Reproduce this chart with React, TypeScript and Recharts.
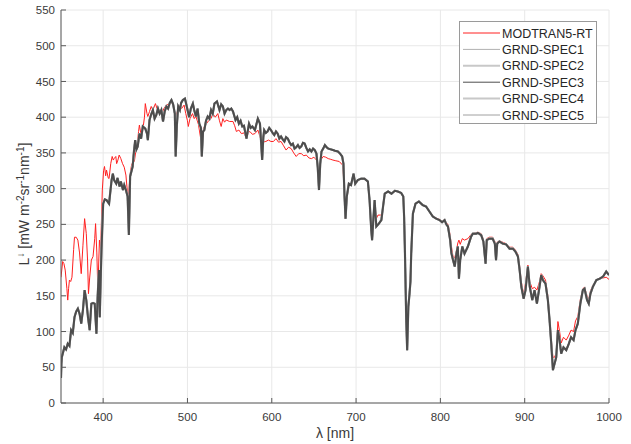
import React from 'react';
import { LineChart, Line, XAxis, YAxis, CartesianGrid } from 'recharts';

// wavelength [nm], radiance [mW m^-2 sr^-1 nm^-1]
const modtran: [number, number][] = [
  [350, 176], [352, 198], [353.5, 195], [355, 186], [357, 160], [358, 144], [359, 160], [360, 172], [361.5, 170], [363, 176],
  [365, 215], [366, 232], [368, 232], [370, 228], [372, 210], [374, 181], [376, 220], [378, 258], [380, 237], [381.5, 200],
  [382.6, 153], [384, 175], [386, 200], [388, 205], [390, 230], [391, 251], [392.5, 210], [393.7, 158], [395.6, 228], [397, 215],
  [399, 298], [400.5, 325], [401.6, 331], [403, 318], [404, 326], [406, 315], [407, 314], [409, 335], [410.7, 345], [412, 340],
  [413, 342], [415, 345], [416, 335], [417.5, 340], [419, 347], [421, 342], [423, 335], [425, 330], [427, 319], [429.6, 284],
  [432, 321], [434, 335], [437, 338], [439, 355], [441, 368], [442, 380], [443, 389], [445, 375], [447, 382], [449, 400],
  [450, 419], [452, 405], [453, 401], [455, 408], [457, 415], [459, 410], [462, 419], [465, 408], [467, 410], [470, 405],
  [472, 412], [475, 417], [478, 418], [481, 422], [484, 412], [486, 401], [488, 408], [491, 417], [493, 412], [496, 417],
  [498, 405], [500, 395], [501, 387], [503, 398], [506, 405], [508, 398], [510, 401], [513, 390], [516, 368], [517, 345],
  [519, 385], [522, 390], [525, 395], [528, 398], [530, 405], [533, 400], [536, 405], [538, 395], [540, 387], [542, 398],
  [544, 393], [546, 396], [550, 394], [554, 394], [556, 388], [558, 380], [561, 382], [564, 377], [567, 378], [570, 370],
  [572, 378], [574, 380], [577, 376], [580, 377], [583.5, 382], [586, 373], [589, 360], [591, 366], [593, 366], [596, 368],
  [599, 366], [602, 366], [605, 370], [608, 365], [611, 366], [614, 360], [617, 354], [620, 358], [623, 356], [626, 350],
  [629, 345], [632, 349], [635, 349], [638, 346], [641, 347], [644, 343], [647, 342], [650, 344], [653, 340], [656, 326],
  [658, 340], [661, 345], [664, 344], [667, 342], [670, 341], [672.5, 340], [676, 339], [680, 338], [684, 333], [685.5, 310],
  [687, 258], [689, 285], [691.4, 305], [694, 305], [697, 318], [699, 307], [702, 312], [706, 313], [710, 313], [714, 309],
  [716, 284], [718, 250], [719, 238], [720.7, 262], [722, 280], [724, 258], [726, 263], [729, 263], [731, 265], [732, 278],
  [734, 293], [738, 296], [742, 293], [746, 296], [749.5, 296], [753.5, 294], [756, 289], [757, 265], [758, 215], [759.5, 140],
  [760.6, 120], [762, 135], [763.4, 155], [765.4, 205], [767.4, 265], [770.5, 280], [774.5, 282], [779, 277], [783, 275], [787, 268],
  [791, 262], [795, 259], [799, 257], [802, 254], [805, 257], [807, 252], [809, 250], [811.6, 235], [813, 220], [815, 205],
  [817, 203], [819, 213], [820.7, 224], [822, 228], [823.5, 222], [826, 230], [828.6, 228], [832.6, 230], [836.5, 236], [840, 238],
  [844.5, 239], [848.4, 237], [851, 229], [853.6, 200], [855, 230], [858, 232], [862, 232], [864.6, 226], [866, 205], [867.4, 225],
  [870, 227], [874, 225], [878, 223], [882, 218], [886, 218], [889, 214], [892, 208], [894, 192], [896, 170], [898.7, 152],
  [901, 168], [903.8, 193], [906, 170], [909, 160], [911.7, 162], [914.5, 158], [917.6, 170], [919.6, 181], [921.6, 178], [924.7, 172],
  [927.5, 150], [929.5, 120], [931.5, 90], [933.5, 64], [935.4, 64], [937.4, 70], [939.4, 114], [941.4, 100], [943.3, 84], [946, 92],
  [949.3, 88], [952.4, 95], [955, 102], [958, 100], [960.3, 115], [963, 121], [966, 145], [969, 160], [971, 162], [974, 150],
  [976, 145], [978, 157], [981, 165], [985, 172], [989, 175], [993, 175], [996.7, 176], [1000, 173],
];

const grndSpec: [number, number][] = [
  [350, 35], [350.5, 55], [351, 64], [354, 78], [356, 75], [358, 83], [360, 80], [362, 102], [364, 98], [366, 120],
  [368, 128], [370, 132], [372, 125], [374, 111], [376, 130], [378, 158], [380, 144], [382, 120], [384, 102], [386, 139],
  [388, 140], [390, 139], [392, 97], [393.5, 150], [395, 186], [396, 120], [397, 170], [398, 214], [400, 279], [402, 285],
  [404, 284], [407, 279], [410, 312], [411.5, 321], [413, 312], [415.5, 307], [417, 315], [419.5, 303], [421, 310], [423.5, 298],
  [425, 305], [427, 298], [429, 289], [430.5, 235], [432, 317], [435, 331], [436.5, 352], [438, 368], [439.5, 355], [441, 359],
  [443, 377], [445, 370], [447, 387], [450, 384], [452, 377], [453, 368], [455, 396], [457, 404], [459, 410], [461, 398],
  [463, 403], [465, 412], [467, 405], [469, 410], [471, 394], [473, 408], [475, 415], [477, 412], [479, 420], [481, 424],
  [483, 418], [485, 405], [486, 345], [487.5, 390], [489, 415], [491, 410], [492.5, 420], [494.5, 424], [497, 426], [499, 416],
  [500.5, 408], [502, 400], [504, 412], [506.4, 419], [508, 410], [510, 401], [512, 412], [514, 391], [516, 385], [517, 345],
  [518.5, 380], [520, 382], [522, 395], [524, 401], [526, 398], [528, 410], [530, 405], [532, 419], [535, 422], [538, 410],
  [540, 418], [542, 415], [544, 405], [546, 410], [548, 412], [550, 410], [552, 412], [554, 408], [557, 396], [559, 400],
  [561, 391], [563, 395], [565, 387], [567, 388], [570, 370], [573, 391], [575, 385], [577, 387], [580, 382], [583.5, 398],
  [586, 391], [588.6, 340], [590, 372], [591, 382], [593, 378], [595, 380], [597, 385], [599, 382], [601, 378], [603, 375],
  [605, 380], [607, 377], [609, 370], [611, 373], [613, 369], [615, 366], [617, 372], [619, 370], [621, 365], [623, 361],
  [625, 363], [627, 356], [629, 358], [631, 361], [633, 357], [635, 359], [637, 364], [639, 363], [641, 357], [643, 352],
  [645, 355], [647, 352], [649, 356], [651, 354], [653, 349], [654.5, 330], [656, 298], [657.5, 335], [659, 352], [661, 356],
  [663, 361], [665, 358], [667, 356], [670, 355], [672.5, 354], [675, 353], [678.4, 352], [681, 349], [683.5, 345], [685, 335],
  [686.3, 289], [687.5, 258], [689, 289], [691.4, 307], [694, 305], [697, 321], [699, 307], [702, 312], [706, 314], [710, 314],
  [714, 310], [716, 284], [718, 242], [719, 228], [720.7, 261], [722, 284], [724, 247], [727, 251], [730, 256], [732, 275],
  [734, 293], [738, 296], [742, 293], [746, 297], [749.5, 296], [753.5, 294], [756, 289], [757, 260], [758, 209], [759.5, 116],
  [760.6, 74], [762, 135], [763.4, 153], [764.5, 170], [765.4, 209], [767.4, 265], [770.5, 279], [774.5, 282], [779, 277], [783, 275],
  [787, 268], [791, 261], [795, 258], [799, 256], [802, 253], [805, 256], [807, 250], [809, 247], [811.6, 228], [813, 210],
  [815, 200], [817, 191], [819, 209], [820.7, 219], [822, 174], [823.5, 200], [826, 219], [828.6, 209], [832.6, 219], [836.5, 233],
  [838.5, 237], [842.5, 237], [844.5, 238], [848.4, 235], [851, 226], [853.6, 195], [855, 228], [858, 230], [862, 230], [864.6, 223],
  [866, 200], [867.4, 223], [870, 226], [874, 223], [878, 222], [882, 216], [886, 216], [889, 212], [892, 205], [894, 186],
  [896, 163], [898.7, 146], [901, 158], [903.8, 191], [906, 163], [909, 144], [911.7, 158], [914.5, 139], [917.6, 163], [919.6, 179],
  [921.6, 172], [924.7, 167], [927.5, 144], [929.5, 116], [931.5, 83], [933.5, 46], [935.4, 55], [937.4, 64], [939.4, 102], [941.4, 88],
  [943.3, 69], [946, 78], [949.3, 74], [952.4, 83], [955, 92], [958, 88], [960.3, 102], [963, 111], [966, 139], [969, 158],
  [971, 160], [974, 144], [976, 139], [978, 153], [981, 163], [985, 172], [989, 174], [993, 177], [996.7, 184], [1000, 179],
];

const xTicks = [400, 500, 600, 700, 800, 900, 1000];
const yTicks = [0, 50, 100, 150, 200, 250, 300, 350, 400, 450, 500, 550];
const seriesNames = ['MODTRAN5-RT', 'GRND-SPEC1', 'GRND-SPEC2', 'GRND-SPEC3', 'GRND-SPEC4', 'GRND-SPEC5'];

const toRows = (pts: [number, number][]) => pts.map(([x, y]) => ({ x, y }));
const modtranData = toRows(modtran);
const grndData = toRows(grndSpec);

// style per series (same order as seriesNames)
const styles = [
  { color: '#ff2020', width: 1, plotWidth: 1 },
  { color: '#b0b0b0', width: 1, plotWidth: 1.6 },
  { color: '#c8c8c8', width: 2, plotWidth: 2.2 },
  { color: '#4d4d4d', width: 1, plotWidth: 2 },
  { color: '#c8c8c8', width: 2, plotWidth: 2.2 },
  { color: '#a0a0a0', width: 1, plotWidth: 1.6 },
];

const FONT = '"Liberation Sans", Arial, Helvetica, sans-serif';
const TXT = '#3a3a3a';
const AX = '#5a5a5a';

const YLabel = () => (
  <text
    transform="rotate(-90)"
    x={-204}
    y={29}
    textAnchor="middle"
    fontFamily={FONT}
    fontSize={14}
    fill={TXT}
  >
    L<tspan dy={-5} fontSize={10}>↓</tspan>
    <tspan dy={5}> [mW m</tspan>
    <tspan dy={-5} fontSize={10}>-2</tspan>
    <tspan dy={5}>sr</tspan>
    <tspan dy={-5} fontSize={10}>-1</tspan>
    <tspan dy={5}>nm</tspan>
    <tspan dy={-5} fontSize={10}>-1</tspan>
    <tspan dy={5}>]</tspan>
  </text>
);

const XLabel = () => (
  <text x={335} y={438} textAnchor="middle" fontFamily={FONT} fontSize={14} fill={TXT}>
    λ [nm]
  </text>
);

const LegendBox = () => (
  <svg
    width={140}
    height={106}
    style={{ position: 'absolute', left: 458, top: 20 }}
  >
    <rect x={1.5} y={1.5} width={137} height={102} fill="#fff" stroke="#9a9a9a" strokeWidth={1} />
    {seriesNames.map((n, i) => {
      const cy = 13 + i * 16.4;
      return (
        <g key={n}>
          <line x1={5} x2={42} y1={cy} y2={cy} stroke={styles[i].color} strokeWidth={styles[i].width} />
          <text x={44} y={cy + 4.5} fontFamily={FONT} fontSize={12.5} fill="#262626">
            {n}
          </text>
        </g>
      );
    })}
  </svg>
);

export default function App() {
  const order = [0, 2, 4, 1, 5, 3];
  return (
    <div style={{ position: 'absolute', left: 0, top: 0, width: 631, height: 444, background: '#fff' }}>
      <LineChart width={631} height={444} margin={{ top: 10, right: 22, bottom: 11, left: 11 }}>
        <CartesianGrid stroke="#e8e8e8" strokeWidth={1} />
        <XAxis
          dataKey="x"
          type="number"
          domain={[350, 1000]}
          ticks={xTicks}
          allowDataOverflow
          height={30}
          tickSize={-5}
          tickMargin={15}
          stroke={AX}
          tick={{ fill: TXT, fontSize: 11.5, fontFamily: FONT }}
          label={<XLabel />}
        />
        <XAxis
          xAxisId="top"
          orientation="top"
          type="number"
          domain={[350, 1000]}
          ticks={xTicks}
          height={0}
          tickSize={-5}
          tick={false}
          stroke={AX}
        />
        <YAxis
          type="number"
          domain={[0, 550]}
          ticks={yTicks}
          allowDataOverflow
          width={50}
          tickSize={-5}
          tickMargin={11}
          stroke={AX}
          tick={{ fill: TXT, fontSize: 11.5, fontFamily: FONT }}
          label={<YLabel />}
        />
        <YAxis
          yAxisId="right"
          orientation="right"
          type="number"
          domain={[0, 550]}
          ticks={yTicks}
          width={0}
          tickSize={-5}
          tick={false}
          stroke={AX}
        />
        {order.map((i) => (
          <Line
            key={seriesNames[i]}
            data={i === 0 ? modtranData : grndData}
            dataKey="y"
            name={seriesNames[i]}
            type="linear"
            dot={false}
            activeDot={false}
            stroke={styles[i].color}
            strokeWidth={styles[i].plotWidth}
            isAnimationActive={false}
          />
        ))}
      </LineChart>
      <LegendBox />
    </div>
  );
}
